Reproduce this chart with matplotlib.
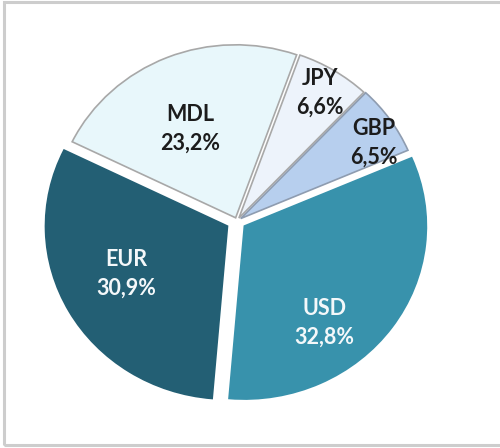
import numpy as np
import matplotlib.pyplot as plt
from matplotlib.patches import Rectangle

# currency structure, shares in %
currencies = ["JPY", "GBP", "USD", "EUR", "MDL"]
shares = [6.6, 6.5, 32.8, 30.9, 23.2]

colors = ["#edf3fb", "#b7cfee", "#3892ac", "#235f74", "#e8f7fb"]
edges = ["#a8a8a8", "#8e9cb0", "#3892ac", "#235f74", "#a8a8a8"]
text_colors = ["#1c1c1c", "#1c1c1c", "#f4f8fa", "#f4f8fa", "#1c1c1c"]
explode = [0.02, 0.025, 0.05, 0.06, 0.02]
# label placement: fraction of radius, and angle nudge (degrees)
label_r = [0.85, 0.85, 0.71, 0.62, 0.57]
label_shift = [0, -4, -16, -3, 4]

# pixel geometry of the (slightly tilted) pie
W, H = 500, 448
cx, cy = 237, 221
rx, ry = 182, 173

fig = plt.figure(figsize=(W / 100, H / 100), dpi=100)
ax = fig.add_axes([0, 0, 1, 1])

wedges, _ = ax.pie(shares, startangle=70.4, counterclock=False,
                   colors=colors, explode=explode,
                   wedgeprops=dict(linewidth=1.2))
for w, ec in zip(wedges, edges):
    w.set_edgecolor(ec)

for i, w in enumerate(wedges):
    mid = np.deg2rad((w.theta1 + w.theta2) / 2 + label_shift[i])
    x0, y0 = w.center
    ax.text(x0 + label_r[i] * np.cos(mid), y0 + label_r[i] * np.sin(mid),
            "%s\n%s%%" % (currencies[i], ("%.1f" % shares[i]).replace(".", ",")),
            ha="center", va="center", fontsize=15.5, fontweight="bold",
            family=["Lato", "DejaVu Sans"], color=text_colors[i],
            linespacing=1.45)

ax.set_aspect("auto")
ax.set_xlim(-cx / rx, (W - cx) / rx)
ax.set_ylim(-(H - cy) / ry, cy / ry)
ax.axis("off")

# chart frame
fig.patches.append(Rectangle((4 / W, 3 / H), 1.2, (H - 5) / H,
                             transform=fig.transFigure, fill=False,
                             edgecolor="#cdcdcd", linewidth=2.2))

fig.savefig("out.png", dpi=100)
